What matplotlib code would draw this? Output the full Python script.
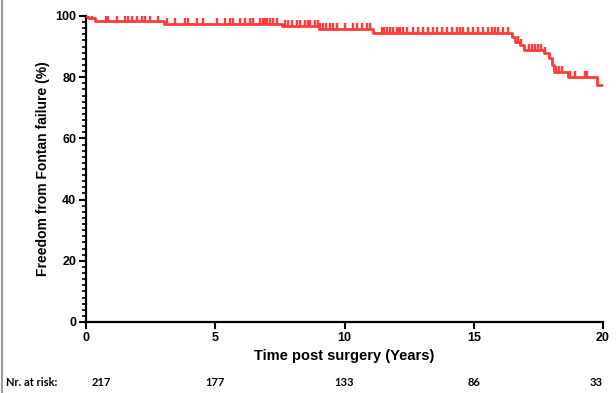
import numpy as np
import matplotlib
matplotlib.use("Agg")
import matplotlib.pyplot as plt
import matplotlib.transforms as mtransforms
from matplotlib.lines import Line2D

# Kaplan-Meier steps (years, % free from failure)
step_times = [0.0, 0.08, 0.35, 3.0, 7.6, 9.0, 11.1, 16.47, 16.6, 16.8, 16.95,
              17.7, 17.93, 18.04, 18.09, 18.65, 19.75, 20.0]
step_surv = [100.0, 99.3, 98.4, 97.3, 96.6, 95.9, 94.4, 93.0, 91.5, 90.5, 89.0,
             87.8, 86.2, 84.0, 81.8, 80.2, 77.5, 77.5]

# censoring times (years)
censor_times = [0.22, 0.77, 0.85, 1.19, 1.51, 1.62, 1.78, 1.97, 2.17, 2.28, 2.48,
                2.79, 3.13, 3.44, 3.83, 3.95, 4.29, 4.53, 5.07, 5.38, 5.57, 5.69,
                5.96, 6.15, 6.34, 6.46, 6.73, 6.85, 6.92, 7.0, 7.12, 7.23, 7.38,
                7.70, 7.81, 7.96, 8.16, 8.28, 8.47, 8.59, 8.67, 8.86, 8.97, 9.05,
                9.17, 9.28, 9.44, 9.56, 9.70, 10.02, 10.33, 10.47, 10.67, 10.86,
                10.99, 11.44, 11.53, 11.63, 11.76, 11.88, 12.02, 12.07, 12.15,
                12.26, 12.41, 12.65, 12.84, 13.04, 13.23, 13.42, 13.57, 13.76,
                13.95, 14.16, 14.35, 14.47, 14.58, 14.78, 14.97, 15.16, 15.36,
                15.55, 15.71, 15.82, 15.94, 16.13, 16.32, 16.71, 16.83, 17.14,
                17.25, 17.37, 17.49, 17.6, 17.76, 18.18, 18.3, 18.41, 18.72,
                18.92, 19.3, 19.38]

risk_times = [0, 5, 10, 15, 20]
risk_counts = [217, 177, 133, 86, 33]

xticks = [0, 5, 10, 15, 20]
yticks = [0, 20, 40, 60, 80, 100]

RED = "#ff3b3b"
FONT = "Liberation Sans"

fig = plt.figure(figsize=(6.16, 3.93), dpi=100)
ax = fig.add_axes([86 / 616, 1 - 322 / 393, (603 - 86) / 616, (322 - 16) / 393])

ax.step(step_times, step_surv, where="post", color=RED, lw=2.0, zorder=3)

idx = np.searchsorted(step_times, censor_times, side="right") - 1
censor_y = np.array(step_surv)[idx]
ax.plot(censor_times, censor_y, linestyle="none", marker=[(0, 0), (0, 1)],
        markersize=8, markeredgewidth=1.7, color=RED, zorder=3)

ax.set_xlim(0, 20)
ax.set_ylim(0, 100)
ax.spines["top"].set_visible(False)
ax.spines["right"].set_visible(False)
for s in ("left", "bottom"):
    ax.spines[s].set_linewidth(1.6)
ax.set_xticks(xticks)
ax.set_yticks(yticks)
ax.set_yticks(np.arange(0, 101, 2), minor=True)
ax.tick_params(axis="both", which="major", length=5, width=1.5, pad=2)
ax.tick_params(axis="y", which="minor", length=3, width=1.2)
ax.set_xticklabels([str(v) for v in xticks], fontfamily=FONT, fontweight="bold", fontsize=9)
ax.set_yticklabels([str(v) for v in yticks], fontfamily=FONT, fontweight="bold", fontsize=9)
ax.set_xlabel("Time post surgery (Years)", fontfamily=FONT, fontweight="bold",
              fontsize=10.5, labelpad=4)
ax.set_ylabel("Freedom from Fontan failure (%)", fontfamily=FONT, fontweight="bold",
              fontsize=10, labelpad=4)

# number at risk row
row_y = 1 - 383 / 393
fig.text(6 / 616, row_y, "Nr. at risk:", fontfamily="Lato", fontweight="bold",
         fontsize=8, va="center", ha="left")
trans = mtransforms.blended_transform_factory(ax.transData, fig.transFigure)
for i, (t, n) in enumerate(zip(risk_times, risk_counts)):
    ha = "center"
    xt = t
    if i == 0:
        ha, xt = "left", t + 0.2
    elif i == len(risk_times) - 1:
        ha = "right"
    ax.text(xt, row_y, str(n), transform=trans, fontfamily="Lato", fontweight="bold",
            fontsize=8, va="center", ha=ha)

fig.add_artist(Line2D([2 / 616, 2 / 616], [0, 1], color="#9a9a9a", lw=1.5,
                      transform=fig.transFigure))

fig.savefig("out.png", dpi=100)
